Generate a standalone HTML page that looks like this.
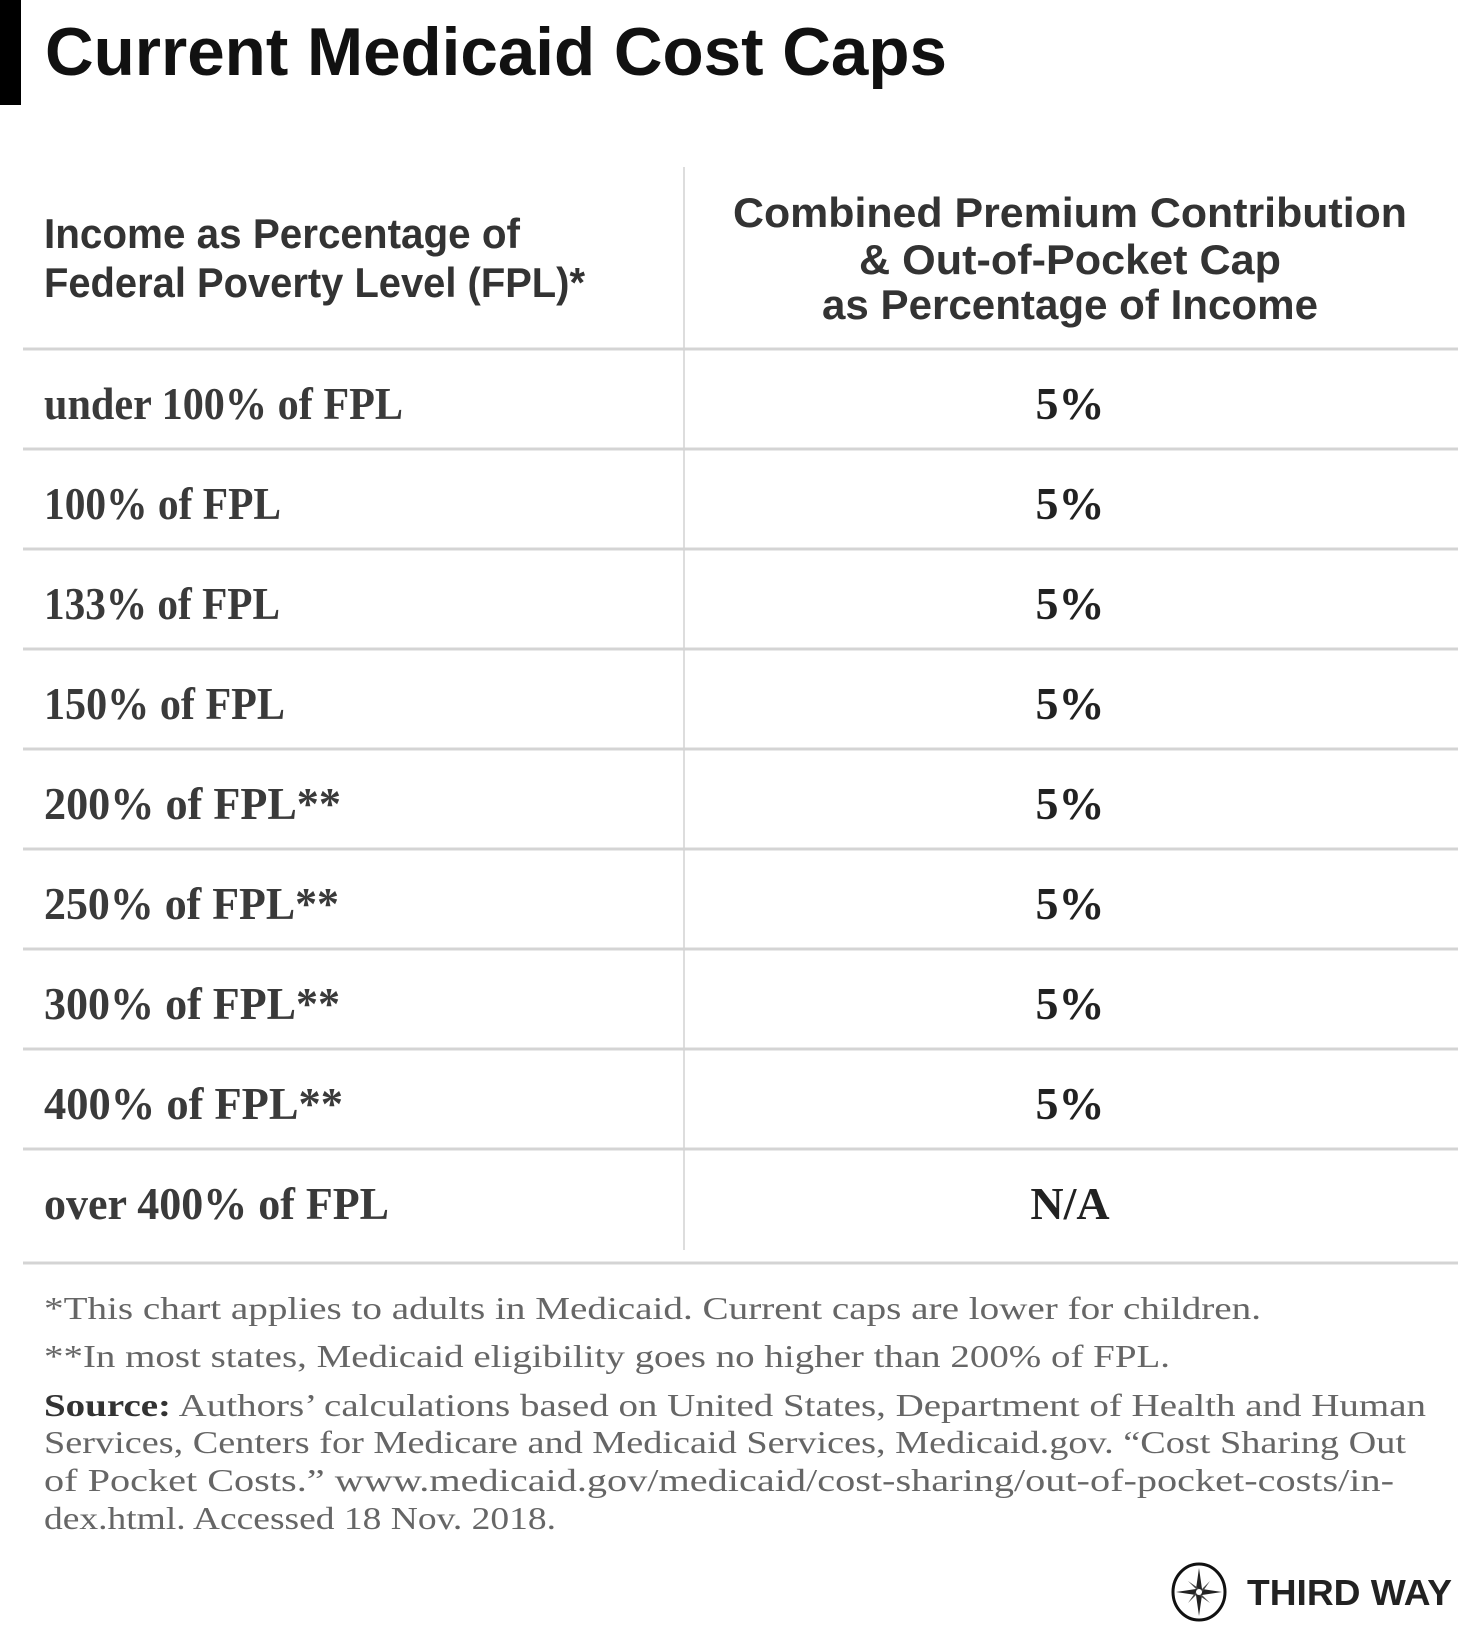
<!DOCTYPE html>
<html><head><meta charset="utf-8"><style>
html,body{margin:0;padding:0;background:#fff;}
svg{display:block;}
.h{font-family:"Liberation Sans",sans-serif;font-weight:bold;fill:#333;}
.r{font-family:"Liberation Serif",serif;font-weight:bold;fill:#3a3a3a;font-size:46px;}
.f{font-family:"Liberation Serif",serif;fill:#666;font-size:32px;}
</style></head><body>
<svg width="1480" height="1650" viewBox="0 0 1480 1650" xmlns="http://www.w3.org/2000/svg">
<rect x="0" y="0" width="21" height="105" fill="#000"/>
<text x="45" y="75" class="h" style="fill:#111;font-size:68px" textLength="902" lengthAdjust="spacingAndGlyphs">Current Medicaid Cost Caps</text>

<line x1="684" y1="167" x2="684" y2="1250" stroke="#ddd" stroke-width="2"/>
<text x="44" y="248" class="h" font-size="42" textLength="476" lengthAdjust="spacingAndGlyphs">Income as Percentage of</text>
<text x="44" y="297" class="h" font-size="42" textLength="541" lengthAdjust="spacingAndGlyphs">Federal Poverty Level (FPL)*</text>
<text x="733" y="227" class="h" font-size="42" textLength="674" lengthAdjust="spacingAndGlyphs">Combined Premium Contribution</text>
<text x="859" y="274" class="h" font-size="42" textLength="422" lengthAdjust="spacingAndGlyphs">&amp; Out-of-Pocket Cap</text>
<text x="822" y="319" class="h" font-size="42" textLength="496" lengthAdjust="spacingAndGlyphs">as Percentage of Income</text>

<g stroke="#d4d4d4" stroke-width="3">
<line x1="23" y1="349" x2="1458" y2="349"/>
<line x1="23" y1="449" x2="1458" y2="449"/>
<line x1="23" y1="549" x2="1458" y2="549"/>
<line x1="23" y1="649" x2="1458" y2="649"/>
<line x1="23" y1="749" x2="1458" y2="749"/>
<line x1="23" y1="849" x2="1458" y2="849"/>
<line x1="23" y1="949" x2="1458" y2="949"/>
<line x1="23" y1="1049" x2="1458" y2="1049"/>
<line x1="23" y1="1149" x2="1458" y2="1149"/>
<line x1="23" y1="1263" x2="1458" y2="1263"/>
</g>

<text x="44" y="419" class="r" textLength="359" lengthAdjust="spacingAndGlyphs">under 100% of FPL</text>
<text x="44" y="519" class="r" textLength="237" lengthAdjust="spacingAndGlyphs">100% of FPL</text>
<text x="44" y="619" class="r" textLength="236" lengthAdjust="spacingAndGlyphs">133% of FPL</text>
<text x="44" y="719" class="r" textLength="241" lengthAdjust="spacingAndGlyphs">150% of FPL</text>
<text x="44" y="819" class="r" textLength="297" lengthAdjust="spacingAndGlyphs">200% of FPL**</text>
<text x="44" y="919" class="r" textLength="295" lengthAdjust="spacingAndGlyphs">250% of FPL**</text>
<text x="44" y="1019" class="r" textLength="296" lengthAdjust="spacingAndGlyphs">300% of FPL**</text>
<text x="44" y="1119" class="r" textLength="299" lengthAdjust="spacingAndGlyphs">400% of FPL**</text>
<text x="44" y="1219" class="r" textLength="345" lengthAdjust="spacingAndGlyphs">over 400% of FPL</text>

<g class="r" text-anchor="middle" style="fill:#222">
<text x="1070" y="419">5%</text>
<text x="1070" y="519">5%</text>
<text x="1070" y="619">5%</text>
<text x="1070" y="719">5%</text>
<text x="1070" y="819">5%</text>
<text x="1070" y="919">5%</text>
<text x="1070" y="1019">5%</text>
<text x="1070" y="1119">5%</text>
<text x="1070" y="1219">N/A</text>
</g>

<text x="44" y="1319" class="f" textLength="1217" lengthAdjust="spacingAndGlyphs">*This chart applies to adults in Medicaid. Current caps are lower for children.</text>
<text x="44" y="1367" class="f" textLength="1126" lengthAdjust="spacingAndGlyphs">**In most states, Medicaid eligibility goes no higher than 200% of FPL.</text>
<text x="44" y="1416" class="f" textLength="1382" lengthAdjust="spacingAndGlyphs"><tspan font-weight="bold" fill="#333">Source:</tspan> Authors’ calculations based on United States, Department of Health and Human</text>
<text x="44" y="1453" class="f" textLength="1362" lengthAdjust="spacingAndGlyphs">Services, Centers for Medicare and Medicaid Services, Medicaid.gov. “Cost Sharing Out</text>
<text x="44" y="1491" class="f" textLength="1350" lengthAdjust="spacingAndGlyphs">of Pocket Costs.” www.medicaid.gov/medicaid/cost-sharing/out-of-pocket-costs/in-</text>
<text x="44" y="1529" class="f" textLength="512" lengthAdjust="spacingAndGlyphs">dex.html. Accessed 18 Nov. 2018.</text>

<g>
<ellipse cx="1199" cy="1592" rx="26" ry="28" fill="none" stroke="#111" stroke-width="3"/>
<path d="M1199 1568 L1202 1589 L1222 1592 L1202 1595 L1199 1616 L1196 1595 L1176 1592 L1196 1589 Z" fill="#222"/>
<path d="M1188 1581 L1201 1590 L1210 1581 L1201 1594 L1210 1603 L1197 1594 L1188 1603 L1197 1590 Z" fill="#444"/>
<circle cx="1199" cy="1592" r="3" fill="#fff"/>
<text x="1247" y="1605" class="h" style="fill:#222" font-size="36" textLength="205" lengthAdjust="spacingAndGlyphs">THIRD WAY</text>
</g>
</svg>
</body></html>
